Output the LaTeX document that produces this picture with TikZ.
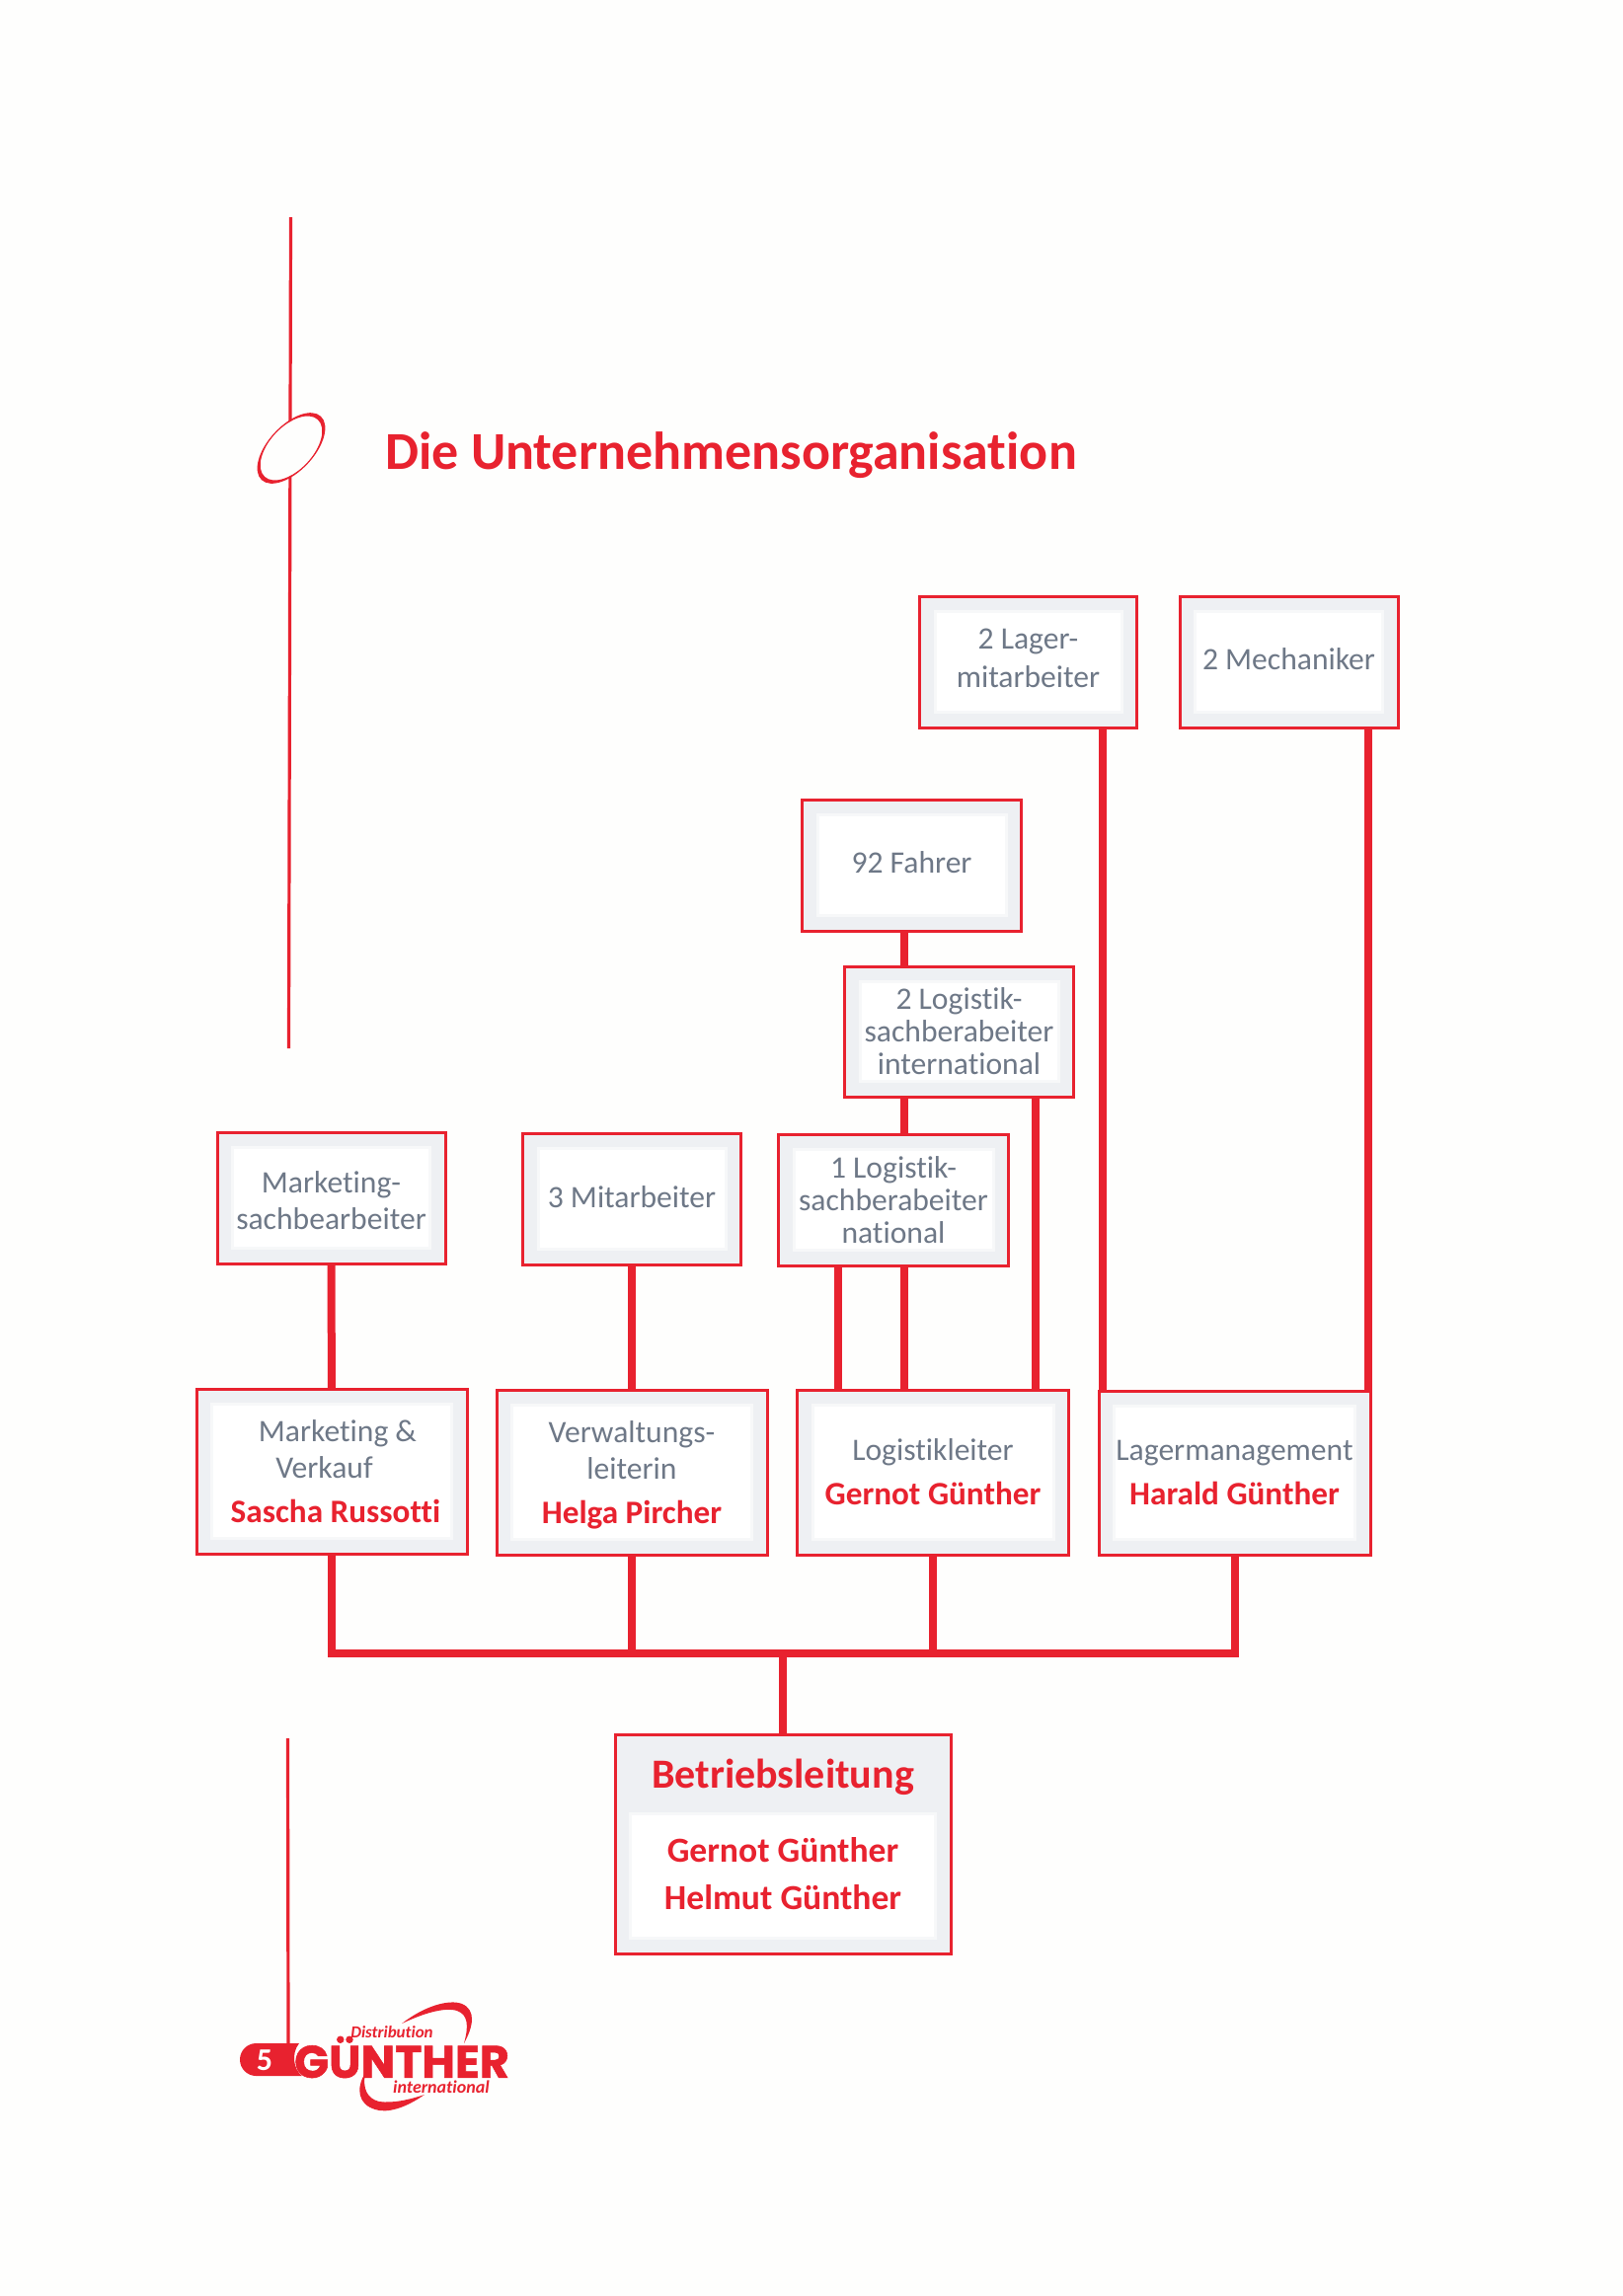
\documentclass[tikz,border=0pt]{standalone}
\usepackage{fontspec}
\setmainfont[Ligatures=NoCommon]{Carlito}
\newfontfamily\logofont[BoldFeatures={FakeBold=1.2}]{Poppins}
\usepackage{xcolor}

\definecolor{orgred}{HTML}{E8222F}
\definecolor{orgtext}{HTML}{6E7887}
\definecolor{orgband}{HTML}{EEF0F3}
\definecolor{orgpaper}{HTML}{FEFEFD}

\newcommand{\insettop}{8pt}
\newcommand{\redname}{\fontsize{16.6}{16.5}\selectfont\bfseries\color{orgred}}

\tikzset{
  orgbox/.style 2 args={draw=orgred, line width=1.5pt, fill=orgband, inner sep=0pt, outer sep=0pt,
    minimum width=#1*0.5pt, minimum height=#2*0.5pt, align=center, text=orgtext,
    font=\fontsize{15.8}{16.5}\selectfont,
    path picture={
      \fill[orgband!50!white] ([xshift=7pt,yshift=-\insettop+1pt]path picture bounding box.north west)
        rectangle ([xshift=-7pt,yshift=7pt]path picture bounding box.south east);
      \fill[white] ([xshift=8.5pt,yshift=-\insettop-0.5pt]path picture bounding box.north west)
        rectangle ([xshift=-8.5pt,yshift=8.5pt]path picture bounding box.south east);
    }},
  topband/.code={\renewcommand{\insettop}{#1}},
  orgline/.style={draw=orgred, line width=4pt},
  thinrule/.style={draw=orgred, line width=1.6pt}
}

\begin{document}
\begin{tikzpicture}[x=0.5pt,y=-0.5pt]
\useasboundingbox[fill=orgpaper] (0,0) rectangle (1644,2326);

% Side rule and title
\draw[thinrule] (294.5,220) -- (292.5,1062);
\draw[thinrule] (291.5,1761) -- (292,2072);
\fill[orgpaper,rotate around={47:(295,454)}] (295,454) ellipse (39.5 and 21.8);
\fill[orgred,even odd rule,rotate around={47:(295,454)}] (295,454) ellipse (44 and 23) (295,454) ellipse (39.5 and 21.8);
\node[anchor=base west,inner sep=0pt] (title) at (390,475) {\fontsize{27}{27}\selectfont\bfseries\color{orgred}Die Unternehmensorganisation};

% Top row
\node[orgbox={220}{133}] (lagermit) at (1041.5,670.5) {2 Lager-\\[3pt]mitarbeiter\rule[-4pt]{0pt}{1pt}};
\node[orgbox={221}{133}] (mechaniker) at (1305.5,670.5) {2 Mechaniker\rule[-3pt]{0pt}{1pt}};

% Logistics column
\node[orgbox={222}{133}] (fahrer) at (923.5,876.5) {92 Fahrer\rule[-3pt]{0pt}{1pt}};
\node[orgbox={232}{132}] (logint) at (971.5,1045) {2 Logistik-\\sachberabeiter\\international};
\node[orgbox={233}{133}] (lognat) at (905,1215.5) {1 Logistik-\\sachberabeiter\\national};

% Staff row
\node[orgbox={231}{133}] (marksach) at (335.5,1213.5) {\rule{0pt}{14pt}Marketing-\\[2pt]sachbearbeiter};
\node[orgbox={221}{133}] (mitarbeiter) at (640,1214.5) {3 Mitarbeiter\rule[-1.5pt]{0pt}{1pt}};

% Managers
\node[orgbox={274}{167}] (marketing) at (336,1490.5) {\hspace*{6pt}Marketing \&\\[2pt]Verkauf\hspace*{7.5pt}\mbox{}\\[6pt]\hspace*{4pt}\redname Sascha Russotti};
\node[orgbox={274}{167}] (verwaltung) at (640,1491.5) {\rule{0pt}{14pt}Verwaltungs-\\[2pt]leiterin\\[6pt]\redname Helga Pircher};
\node[orgbox={275}{167}] (logleiter) at (945,1491.5) {Logistikleiter\\[6pt]\redname Gernot Günther};
\node[orgbox={275}{166}] (lagerman) at (1250.5,1492) {Lagermanagement\\[6pt]\redname Harald Günther};

% Head
\node[orgbox={340}{222},topband=40.5pt,text=orgred,font=\fontsize{17.8}{24}\selectfont\bfseries] (leitung) at (793,1868) {{\fontsize{21}{24}\selectfont Betriebsleitung}\\[13.5pt]Gernot Günther\\Helmut Günther\rule[-9.5pt]{0pt}{1pt}};

% Shafts between boxes
\coordinate (shaftA) at (849,0);
\coordinate (shaftB) at (916,0);
\coordinate (shaftC) at (1049,0);
\coordinate (shaftD) at (1117,0);
\coordinate (shaftE) at (1386,0);
\draw[orgline] (lagermit.south -| shaftD) -- (lagerman.north -| shaftD);
\draw[orgline] (mechaniker.south -| shaftE) -- (lagerman.north -| shaftE);
\draw[orgline] (fahrer.south -| shaftB) -- (logint.north -| shaftB);
\draw[orgline] (logint.south -| shaftB) -- (lognat.north -| shaftB);
\draw[orgline] (logint.south -| shaftC) -- (logleiter.north -| shaftC);
\draw[orgline] (lognat.south -| shaftA) -- (logleiter.north -| shaftA);
\draw[orgline] (lognat.south -| shaftB) -- (logleiter.north -| shaftB);
\draw[orgline] (marksach) -- (marketing);
\draw[orgline] (mitarbeiter) -- (verwaltung);

% Bus
\coordinate (bus) at (793,1675);
\draw[orgline] (marketing.south) |- (bus);
\draw[orgline] (lagerman.south) |- (bus);
\draw[orgline] (verwaltung.south) -- (verwaltung.south |- bus);
\draw[orgline] (logleiter.south) -- (logleiter.south |- bus);
\draw[orgline] (bus) -- (leitung.north);

% Logo
\fill[orgred] (303,2070) -- (259.5,2070) arc (270:90:16.5) -- (306,2103)
  .. controls (297,2096) and (295,2080) .. (303,2070) -- cycle;
\node[text=white,font=\fontsize{16}{16}\selectfont\bfseries] (page) at (268,2087) {5};
\node[text=orgred,font=\logofont\fontsize{23}{23}\selectfont\bfseries,inner sep=0pt] (logoname) at (407,2084) {GÜNTHER};
\node[text=orgred,font=\fontsize{8.5}{9}\selectfont\bfseries\itshape] (logotop) at (397,2059) {Distribution};
\node[text=orgred,font=\fontsize{9}{9}\selectfont\bfseries\itshape] (logobot) at (447,2114) {international};
\fill[orgred] (407,2050) .. controls (430,2032) and (455,2025) .. (468,2030)
  .. controls (482,2036) and (480,2052) .. (470,2070)
  .. controls (475,2052) and (474,2041) .. (463,2037)
  .. controls (450,2033) and (428,2040) .. (407,2050) -- cycle;
\fill[orgred] (430,2122) .. controls (410,2136) and (392,2141) .. (380,2137)
  .. controls (363,2132) and (360,2116) .. (370,2100)
  .. controls (367,2116) and (372,2126) .. (384,2129)
  .. controls (398,2131) and (415,2127) .. (430,2122) -- cycle;
\end{tikzpicture}
\end{document}
